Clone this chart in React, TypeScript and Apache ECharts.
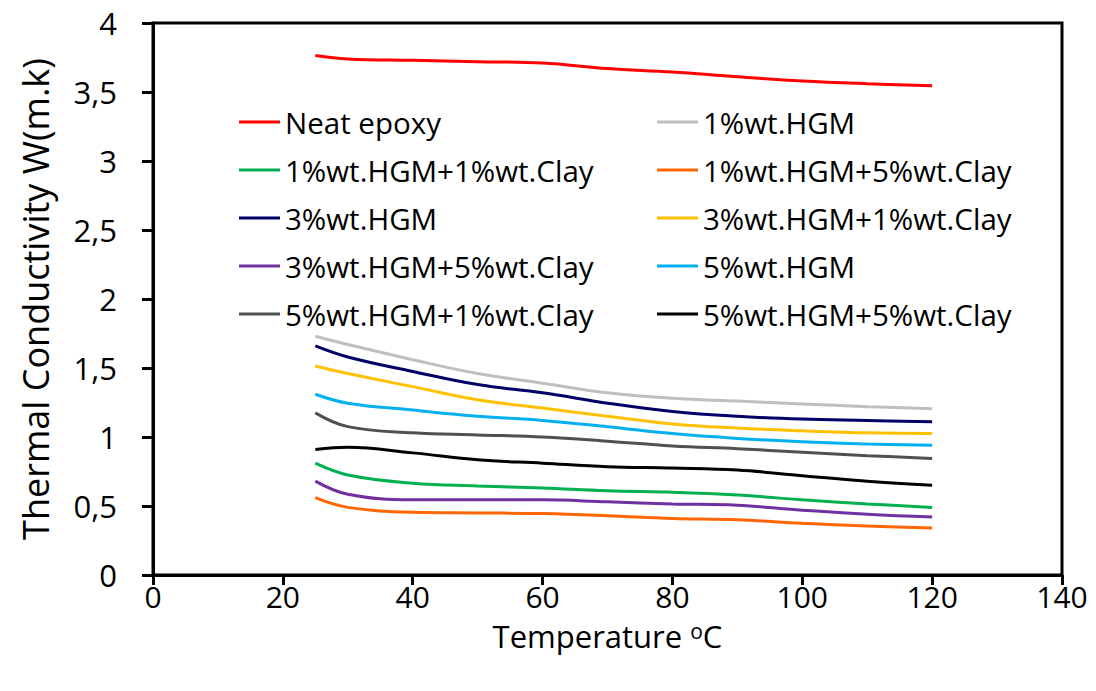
import React, { useEffect, useRef } from "react";
import * as echarts from "echarts";

const temps = [25, 30, 40, 50, 60, 70, 80, 90, 100, 110, 120];
const xTicks = [0, 20, 40, 60, 80, 100, 120, 140];
const yTicks = ["0", "0,5", "1", "1,5", "2", "2,5", "3", "3,5", "4"];

const neatEpoxy = [3.765, 3.74, 3.73, 3.72, 3.71, 3.67, 3.645, 3.61, 3.58, 3.56, 3.545];
const hgm1 = [1.73, 1.67, 1.56, 1.46, 1.39, 1.32, 1.28, 1.26, 1.24, 1.22, 1.205];
const hgm1clay1 = [0.81, 0.725, 0.665, 0.645, 0.63, 0.61, 0.6, 0.58, 0.545, 0.515, 0.49];
const hgm1clay5 = [0.56, 0.49, 0.455, 0.45, 0.445, 0.43, 0.41, 0.4, 0.375, 0.355, 0.34];
const hgm3 = [1.66, 1.58, 1.475, 1.38, 1.32, 1.245, 1.185, 1.15, 1.13, 1.12, 1.11];
const hgm3clay1 = [1.515, 1.46, 1.365, 1.27, 1.21, 1.15, 1.095, 1.065, 1.045, 1.03, 1.025];
const hgm3clay5 = [0.68, 0.585, 0.545, 0.545, 0.545, 0.53, 0.515, 0.505, 0.47, 0.44, 0.42];
const hgm5 = [1.31, 1.245, 1.195, 1.15, 1.12, 1.075, 1.025, 0.99, 0.965, 0.95, 0.94];
const hgm5clay1 = [1.175, 1.075, 1.03, 1.015, 1.0, 0.97, 0.935, 0.915, 0.89, 0.865, 0.845];
const hgm5clay5 = [0.91, 0.925, 0.885, 0.835, 0.81, 0.785, 0.775, 0.76, 0.72, 0.68, 0.65];

const seriesNames = [
  "Neat epoxy",
  "1%wt.HGM",
  "1%wt.HGM+1%wt.Clay",
  "1%wt.HGM+5%wt.Clay",
  "3%wt.HGM",
  "3%wt.HGM+1%wt.Clay",
  "3%wt.HGM+5%wt.Clay",
  "5%wt.HGM",
  "5%wt.HGM+1%wt.Clay",
  "5%wt.HGM+5%wt.Clay",
];
const seriesValues = [
  neatEpoxy, hgm1, hgm1clay1, hgm1clay5, hgm3, hgm3clay1, hgm3clay5, hgm5, hgm5clay1, hgm5clay5,
];
const seriesColors = [
  "#FF0000", "#BFBFBF", "#00B050", "#FF6600", "#000066",
  "#FFC000", "#7030A0", "#00B0F0", "#505050", "#000000",
];

const legendLeft = [seriesNames[0], seriesNames[2], seriesNames[4], seriesNames[6], seriesNames[8]];
const legendRight = [seriesNames[1], seriesNames[3], seriesNames[5], seriesNames[7], seriesNames[9]];

const FONT = "'Open Sans', sans-serif";

export default function App() {
  const ref = useRef<HTMLDivElement>(null);
  useEffect(() => {
    if (!ref.current) return;
    const chart = echarts.init(ref.current, undefined, { renderer: "svg" });
    const legendCommon = {
      orient: "vertical",
      icon: "rect",
      padding: 0,
      itemWidth: 41,
      itemHeight: 3,
      itemGap: 16,
      textStyle: { fontFamily: FONT, fontSize: 29.5, color: "#000", lineHeight: 32 },
      selectedMode: false,
    };
    chart.setOption({
      animation: false,
      backgroundColor: "#fff",
      textStyle: { fontFamily: FONT },
      grid: {
        left: 153,
        right: 34,
        top: 23,
        bottom: 116,
        show: true,
        borderColor: "#000",
        borderWidth: 3,
        backgroundColor: "transparent",
      },
      legend: [
        { ...legendCommon, left: 239, top: 106, data: legendLeft },
        { ...legendCommon, left: 657, top: 106, data: legendRight },
      ],
      xAxis: {
        type: "value",
        min: xTicks[0],
        max: xTicks[xTicks.length - 1],
        interval: 20,
        name: "Temperature {sup|o}C",
        nameLocation: "middle",
        nameGap: 45,
        nameTextStyle: {
          fontFamily: FONT,
          fontSize: 31,
          color: "#000",
          rich: { sup: { fontFamily: FONT, fontSize: 21, color: "#000", verticalAlign: "top", lineHeight: 22 } },
        },
        axisLine: { lineStyle: { color: "#000", width: 3 } },
        axisTick: { show: true, length: 10, lineStyle: { color: "#000", width: 3 } },
        axisLabel: { fontFamily: FONT, fontSize: 30, color: "#000", margin: 6 },
        splitLine: { show: false },
      },
      yAxis: {
        type: "value",
        min: 0,
        max: 4,
        interval: 0.5,
        name: "Thermal Conductivity W(m.k)",
        nameLocation: "middle",
        nameGap: 100,
        nameTextStyle: { fontFamily: FONT, fontSize: 36, color: "#000" },
        axisLine: { show: true, lineStyle: { color: "#000", width: 3 } },
        axisTick: { show: true, length: 11, lineStyle: { color: "#000", width: 3 } },
        axisLabel: {
          fontFamily: FONT,
          fontSize: 31,
          color: "#000",
          margin: 36,
          formatter: (v: number) => yTicks[Math.round(v / 0.5)] ?? String(v).replace(".", ","),
        },
        splitLine: { show: false },
      },
      series: seriesNames.map((name, i) => ({
        name,
        type: "line",
        smooth: 0.4,
        symbol: "none",
        color: seriesColors[i],
        lineStyle: { color: seriesColors[i], width: 3 },
        data: temps.map((t, j) => [t, seriesValues[i][j]]),
      })),
    });
    return () => chart.dispose();
  }, []);
  return (
    <div
      ref={ref}
      style={{ position: "fixed", left: 0, top: 0, width: 1096, height: 691, background: "#fff" }}
    />
  );
}
